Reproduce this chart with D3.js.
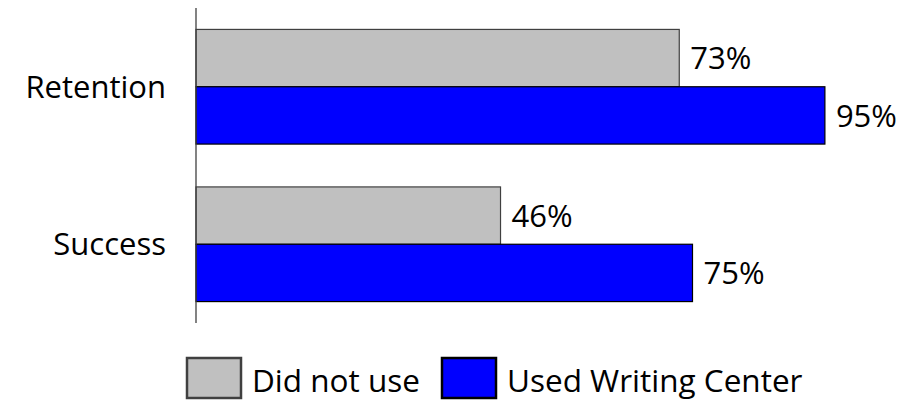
<!DOCTYPE html>
<html>
<head>
<meta charset="utf-8">
<script src="https://cdn.jsdelivr.net/npm/d3@7"></script>
<style>
  body { margin: 0; background: #fff; }
  svg text { font-family: "Open Sans", "Noto Sans", sans-serif; fill: #000; }
</style>
</head>
<body>
<svg id="chart" width="918" height="400"></svg>
<script>
const categories = ["Retention", "Success"]
const seriesNames = ["Did not use", "Used Writing Center"]
const didNotUse = [0.73, 0.46]
const usedCenter = [0.95, 0.75]
const colors = ["#c0c0c0", "#0000ff"]
const strokes = ["#404040", "#000000"]

const svg = d3.select("#chart")

const x = d3.scaleLinear()
    .domain([0, 1])
    .range([196, 858])

const y = d3.scaleBand()
    .domain(categories)
    .range([8, 323])
    .paddingInner(0.272)
    .paddingOuter(0.136)

const ySub = d3.scaleBand()
    .domain(seriesNames)
    .range([0, y.bandwidth()])

const rows = categories.map((c, i) => ({
    cat: c,
    vals: [didNotUse[i], usedCenter[i]]
}))

const fmt = d3.format(".0%")

const groups = svg.selectAll(".grp")
    .data(rows)
    .enter()
    .append("g")
    .attr("class", "grp")
    .attr("transform", d => `translate(0,${y(d.cat)})`)

groups.selectAll("rect")
    .data(d => d.vals.map((v, j) => ({ v: v, s: seriesNames[j], j: j })))
    .enter()
    .append("rect")
    .attr("x", x(0))
    .attr("y", d => ySub(d.s))
    .attr("width", d => x(d.v) - x(0))
    .attr("height", ySub.bandwidth())
    .style("fill", d => colors[d.j])
    .style("stroke", d => strokes[d.j])
    .style("stroke-width", 1.2)

groups.selectAll(".val")
    .data(d => d.vals.map((v, j) => ({ v: v, s: seriesNames[j] })))
    .enter()
    .append("text")
    .attr("class", "val")
    .attr("x", d => x(d.v) + 11)
    .attr("y", d => ySub(d.s) + ySub.bandwidth() / 2)
    .attr("dy", "0.36em")
    .style("font-size", "31px")
    .text(d => fmt(d.v))

// category axis
const yAxis = d3.axisLeft(y).tickSize(0).tickPadding(30)
const axisG = svg.append("g")
    .attr("transform", `translate(${x(0)},0)`)
    .call(yAxis)
axisG.select(".domain")
    .attr("d", `M0,8V323`)
    .style("stroke", "#404040")
    .style("stroke-width", 1.3)
axisG.selectAll("text")
    .style("font-size", "31px")
    .style("font-family", "\"Open Sans\", \"Noto Sans\", sans-serif")
    .attr("dy", "0.36em")

// legend
const legendX = [187, 442]
const legend = svg.append("g")
    .selectAll("g")
    .data(seriesNames)
    .enter()
    .append("g")
    .attr("transform", (d, i) => `translate(${legendX[i]},358)`)

legend.append("rect")
    .attr("width", 54)
    .attr("height", 40)
    .style("fill", (d, i) => colors[i])
    .style("stroke", (d, i) => i == 0 ? "#404040" : "#000")
    .style("stroke-width", 2.5)

legend.append("text")
    .attr("x", 65)
    .attr("y", 23)
    .attr("dy", "0.36em")
    .style("font-size", "31.5px")
    .text(d => d)
</script>
</body>
</html>
